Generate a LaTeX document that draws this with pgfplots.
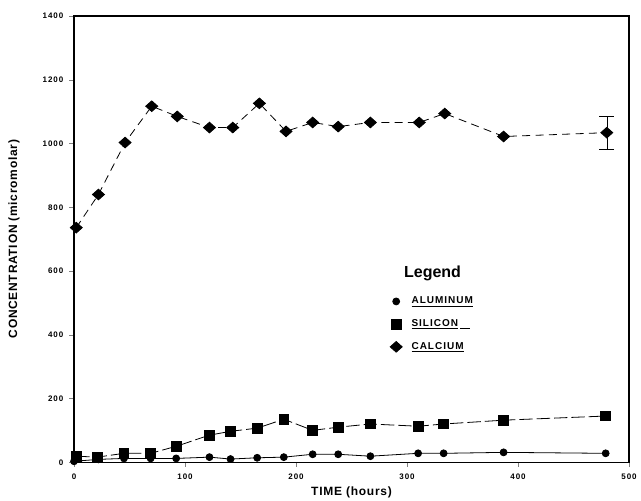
\documentclass[border=0pt]{standalone}
\usepackage{fontspec}
\setmainfont{Liberation Sans}
\usepackage{pgfplots}
\pgfplotsset{compat=1.18}
\begin{document}
\begin{tikzpicture}
\begin{axis}[
  name=ax,
  scale only axis,
  width=416pt, height=334.5pt,
  xmin=0, xmax=500, ymin=0, ymax=1400,
  xtick={0,100,...,500}, ytick={0,200,...,1400},
  tick align=outside, tick pos=left,
  major tick length=3.5pt,
  /pgf/number format/assume math mode=true,
  /pgf/number format/1000 sep={},
  ticklabel style={font=\bfseries\fontsize{6}{7}\selectfont\addfontfeatures{LetterSpace=12}},
  xticklabel style={yshift=-1.5pt},
  yticklabel style={xshift=-1pt},
  xlabel={TIME (hours)},
  ylabel={CONCENTRATION (micromolar)},
  label style={font=\bfseries\fontsize{9}{10}\selectfont\addfontfeatures{LetterSpace=6}},
  xlabel style={at={(axis description cs:0.5,-0.0673)}, anchor=center},
  ylabel style={at={(axis description cs:-0.108,0.5)}, anchor=center},
  axis line style={line width=1pt},
  legend style={draw=none, fill=none, at={(axis cs:281,536)}, anchor=north west,
    font=\bfseries\fontsize{7.5}{8}\selectfont\addfontfeatures{LetterSpace=10}, row sep=6.3pt, cells={anchor=west}},
  legend cell align=left,
  legend image code/.code={\draw[#1, solid] plot coordinates {(0.25cm,0cm)};},
]
\addplot[black, line width=0.6pt, mark=*, mark size=2.6pt] coordinates {
(0,3) (22,9) (45,12) (69,12) (92,12) (122,16) (141,10) (165,14) (189,16) (215,25)
(238,25) (267,19) (310,28) (333,28) (387,31) (479,28)};
\addlegendentry{\hspace{5pt}\underline{ALUMINUM}}
\addplot[black, line width=0.6pt, dash pattern=on 10pt off 3pt, mark=square*, mark size=3.6pt, mark options={solid}] coordinates {
(2,19) (21,16) (45,28) (69,28) (92,50) (122,85) (141,97) (165,107) (189,135) (215,100)
(238,110) (267,120) (310,113) (333,120) (387,132) (479,145)};
\addlegendentry{\hspace{5pt}\underline{SILICON}\,\underline{\hspace{8pt}}}
\addplot[black, line width=0.6pt, dash pattern=on 6pt off 4pt, mark=diamond*, mark size=4pt, mark options={solid, xscale=1.5}] coordinates {
(2,736) (22,840) (46,1003) (70,1117) (93,1085) (122,1050) (143,1050) (167,1126) (191,1038) (215,1066)
(238,1053) (267,1066) (311,1066) (334,1094) (387,1022) (480,1034)};
\addlegendentry{\hspace{5pt}\underline{CALCIUM}}
\addplot[black, line width=0.6pt, mark=none, forget plot,
  error bars/.cd, y dir=both, y explicit, error mark options={rotate=90, mark size=5.5pt, line width=0.6pt}]
  coordinates {(480,1034) +- (0,52)};
\node[font=\bfseries\fontsize{12}{13}\selectfont] at (axis cs:323,593) {Legend};
\end{axis}
\pgfresetboundingbox
\useasboundingbox ([shift={(-55.5pt,-28.5pt)}]ax.south west) rectangle ([shift={(9pt,12pt)}]ax.north east);
\end{tikzpicture}
\end{document}
